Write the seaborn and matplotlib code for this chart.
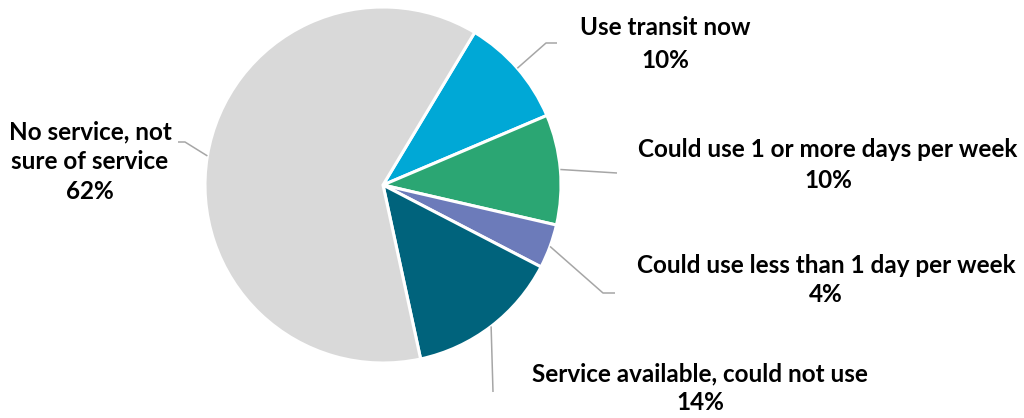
import numpy as np
import seaborn as sns
import matplotlib.pyplot as plt

# transit survey answers, shares in percent
labels = ['Use transit now', 'Could use 1 or more days per week',
          'Could use less than 1 day per week', 'Service available, could not use',
          'No service, not\nsure of service']
shares = [10, 10, 4, 14, 62]
colors = ['#00A8D6', '#2BA673', '#6C7BBA', '#00637C', '#D9D9D9']

sns.set_style('white')
plt.rcParams['font.family'] = ['Lato', 'DejaVu Sans']

W, H = 1024, 418
R = 178.0
CX, CY = 383, 185


def px(x, y):
    # pixel position -> data coords (pie radius 1)
    return (x - CX) / R, (CY - y) / R


fig = plt.figure(figsize=(W / 100, H / 100), dpi=100)
ax = fig.add_axes([0, 0, 1, 1])
wedges, _ = ax.pie(shares, colors=colors, startangle=59, counterclock=False,
                   radius=1, wedgeprops=dict(edgecolor='white', linewidth=2.2))
ax.set_xlim(px(0, 0)[0], px(W, 0)[0])
ax.set_ylim(px(0, H)[1], px(0, 0)[1])
ax.set_aspect('equal')
ax.axis('off')

# leader line elbows/ends and label centres, in pixels
elbows = [[(546, 43), (557, 43)],
          [(617, 173)],
          [(603, 293), (615, 293)],
          [(493, 392)],
          [(185, 142), (178, 142)]]
text_pos = [(665, 44), (828, 165), (826, 280), (700, 388), (90, 162)]
spacing = [1.5, 1.45, 1.3, 1.3, 1.35]

for w, lab, s, pts, tp, ls in zip(wedges, labels, shares, elbows, text_pos, spacing):
    ang = np.deg2rad((w.theta1 + w.theta2) / 2)
    xs = [np.cos(ang)] + [px(*p)[0] for p in pts]
    ys = [np.sin(ang)] + [px(*p)[1] for p in pts]
    ax.plot(xs, ys, color='#A6A6A6', lw=1.1, solid_capstyle='butt')
    tx, ty = px(*tp)
    ax.text(tx, ty, f'{lab}\n{s}%', ha='center', va='center', fontsize=17.5,
            fontweight='bold', color='black', linespacing=ls)

fig.savefig('out.png', dpi=100)
